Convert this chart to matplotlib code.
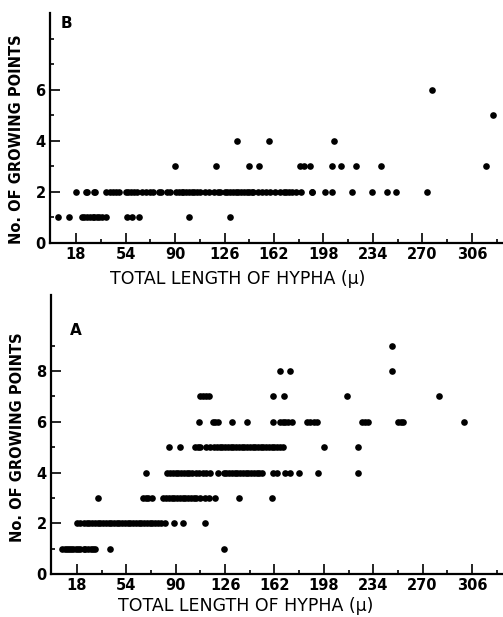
import matplotlib
matplotlib.use("Agg")
import matplotlib.pyplot as plt

# --- DATA ---
# panel B : total hyphal length (µ) per number of growing points
B_X = {
    1: [5, 13, 22, 24, 26, 28, 30, 31, 33, 35, 37, 40, 55, 59, 64, 100, 130],
    2: [18, 25, 26, 31, 32, 40, 43, 45, 47, 49, 54, 56, 58, 60, 62, 66, 69, 72,
        74, 78, 80, 84, 86, 91, 93, 95, 96, 98, 100, 102, 104, 106, 108, 112,
        115, 118, 121, 123, 126, 128, 130, 132, 134, 136, 138, 140, 142, 144,
        146, 147, 150, 153, 156, 159, 163, 166, 169, 171, 173, 175, 178, 182,
        190, 190, 199, 204, 219, 233, 244, 251, 273],
    3: [90, 120, 144, 151, 181, 184, 188, 204, 211, 222, 240, 316],
    4: [135, 158, 206],
    5: [321],
    6: [277],
}

# panel A
A_X = {
    1: [7, 9, 11, 12, 14, 15, 17, 19, 20, 23, 24, 26, 28, 30, 31, 42, 125],
    2: [18, 20, 23, 25, 27, 29, 31, 33, 35, 37, 39, 41, 43, 45, 47, 49, 51, 53,
        55, 57, 59, 61, 63, 65, 67, 69, 71, 73, 75, 77, 79, 82, 89, 95, 111],
    3: [33, 66, 68, 70, 73, 81, 83, 85, 87, 89, 91, 93, 95, 97, 99, 101, 103,
        105, 108, 111, 114, 119, 136, 160],
    4: [68, 84, 86, 88, 90, 92, 94, 96, 98, 100, 102, 105, 107, 110, 112, 115,
        121, 125, 127, 129, 131, 133, 135, 137, 139, 141, 143, 145, 147, 149,
        151, 153, 161, 164, 170, 173, 180, 194, 223],
    5: [85, 93, 104, 106, 108, 112, 115, 118, 120, 122, 124, 126, 128, 130,
        132, 134, 136, 138, 140, 142, 144, 146, 148, 150, 152, 154, 156, 158,
        160, 162, 164, 166, 168, 198, 223],
    6: [107, 117, 119, 121, 131, 142, 161, 166, 168, 170, 172, 175, 186, 188,
        191, 193, 226, 228, 230, 252, 254, 256, 300],
    7: [108, 110, 112, 114, 161, 169, 215, 282],
    8: [166, 173, 248],
    9: [248],
}

X_MAJOR = [18, 54, 90, 126, 162, 198, 234, 270, 306]
X_MINOR = [36, 72, 108, 144, 180, 216, 252, 288, 324]

Y_LABEL = "No. OF GROWING POINTS"
X_LABEL = "TOTAL LENGTH OF HYPHA (\u03bc)"


def draw_panel(ax, data, ymax, ymajor, yminor, letter, letter_pos, xlab_x, xlab_y, ylab_y):
    for n, xs in data.items():
        ax.plot(xs, [n] * len(xs), "o", color="black", markersize=4.8,
                markeredgewidth=0, linestyle="none")

    ax.set_xlim(-1, 329)
    ax.set_ylim(0, ymax)

    for s in ("top", "right"):
        ax.spines[s].set_visible(False)
    for s in ("left", "bottom"):
        ax.spines[s].set_linewidth(1.6)

    ax.set_xticks(X_MAJOR)
    ax.set_xticks(X_MINOR, minor=True)
    ax.set_yticks(ymajor)
    ax.set_yticks(yminor, minor=True)
    ax.tick_params(which="both", direction="in", width=1.2, labelsize=10.5, pad=3)
    ax.tick_params(which="major", length=7)
    ax.tick_params(which="minor", length=3)
    for lab in ax.get_xticklabels() + ax.get_yticklabels():
        lab.set_fontweight("bold")

    ax.text(letter_pos[0], letter_pos[1], letter, transform=ax.transAxes,
            fontsize=11, fontweight="bold", ha="center", va="center")
    ax.text(xlab_x, xlab_y, X_LABEL, transform=ax.transAxes,
            fontsize=12.5, ha="center", va="center")
    ax.text(-0.073, ylab_y, Y_LABEL, transform=ax.transAxes, rotation=90,
            fontsize=10.5, fontweight="bold", ha="center", va="center")


fig = plt.figure(figsize=(5.03, 6.17), dpi=100)

ax_b = fig.add_axes([0.0992, 0.6062, 0.902, 0.3728])
draw_panel(ax_b, B_X, 9, [0, 2, 4, 6], [1, 3, 5, 7, 8], "B", (0.0375, 0.952),
           0.414, -0.155, 0.45)

ax_a = fig.add_axes([0.1012, 0.0697, 0.8998, 0.4522])
draw_panel(ax_a, A_X, 11, [0, 2, 4, 6, 8], [1, 3, 5, 7, 9], "A", (0.055, 0.871),
           0.43, -0.115, 0.49)

fig.savefig("out.png", dpi=100)
